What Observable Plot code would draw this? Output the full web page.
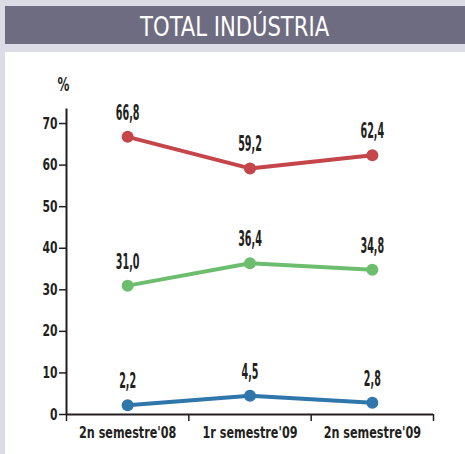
<!DOCTYPE html>
<html>
<head>
<meta charset="utf-8">
<script src="https://cdn.jsdelivr.net/npm/d3@7"></script>
<script src="https://cdn.jsdelivr.net/npm/@observablehq/plot@0.6"></script>
<style>
  html, body { margin: 0; padding: 0; }
  body { width: 465px; height: 454px; background: #dcdce6; position: relative; overflow: hidden; }
  #title { position: absolute; left: 5px; top: 6px; width: 460px; height: 38px; background: #6e6c80;
           color: #fff; text-align: center; font-family: 'DejaVu Sans Condensed', sans-serif;
           font-size: 27px; line-height: 41px; overflow: hidden; }
  #title span { display: inline-block; transform: scaleX(0.87); }
  #panel { position: absolute; left: 5px; top: 52px; width: 460px; height: 402px; background: #fff; }
</style>
</head>
<body>
<div id="title"><span>TOTAL INDÚSTRIA</span></div>
<div id="panel"></div>
<script>
const categories = ["2n semestre'08", "1r semestre'09", "2n semestre'09"];
const seriesNames = ["vermell", "verd", "blau"];
const seriesColors = ["#c4464b", "#6dbd6e", "#2f76aa"];
const redValues = [66.8, 59.2, 62.4];
const greenValues = [31.0, 36.4, 34.8];
const blueValues = [2.2, 4.5, 2.8];
const yTicks = [0, 10, 20, 30, 40, 50, 60, 70];
const bandEdges = [-0.5, 0.5, 1.5, 2.5];

const allValues = [redValues, greenValues, blueValues];
const data = [];
allValues.forEach((vals, s) => vals.forEach((v, i) => data.push({series: seriesNames[s], i, value: v})));
const fmt = v => v.toFixed(1).replace(".", ",");

const chart = Plot.plot({
  width: 460,
  height: 402,
  marginLeft: 61,
  marginRight: 32,
  marginTop: 56.5,
  marginBottom: 40,
  x: {type: "linear", domain: [-0.5, 2.5]},
  y: {domain: [0, 73.5]},
  color: {domain: seriesNames, range: seriesColors},
  style: {fontFamily: "'DejaVu Sans Condensed', sans-serif", fontWeight: "bold", color: "#231f20", background: "white", overflow: "visible"},
  marks: [
    Plot.axisY({ticks: yTicks, tickSize: 7, tickPadding: 2, fontSize: 16, label: null, strokeWidth: 1.5, ariaDescription: "ylab"}),
    Plot.axisX({ticks: bandEdges, tickSize: 7, tickFormat: () => "", label: null, strokeWidth: 1.5}),
    Plot.axisX({ticks: [0, 1, 2], tickSize: 0, tickPadding: 13, tickFormat: i => categories[i], fontSize: 15, label: null, ariaDescription: "xlab"}),
    Plot.ruleX([-0.5], {strokeWidth: 2, stroke: "#231f20"}),
    Plot.ruleY([0], {strokeWidth: 2, stroke: "#231f20"}),
    Plot.line(data, {x: "i", y: "value", z: "series", stroke: "series", strokeWidth: 4}),
    Plot.dot(data, {x: "i", y: "value", fill: "series", r: 6}),
    Plot.text(data, {x: "i", y: "value", text: d => fmt(d.value), lineAnchor: "bottom", dy: -17, fontSize: 20.5, fill: "#231f20", ariaDescription: "vals"}),
    Plot.text(["%"], {frameAnchor: "top-left", textAnchor: "middle", lineAnchor: "middle", dx: -3, dy: -24.5, fontSize: 20, fill: "#231f20", ariaDescription: "pct"})
  ]
});
document.getElementById("panel").appendChild(chart);

function squeeze(desc, ratio) {
  chart.querySelectorAll(`g[aria-description="${desc}"] text`).forEach(t => {
    const w = t.getComputedTextLength();
    t.setAttribute("textLength", (w * ratio).toFixed(2));
    t.setAttribute("lengthAdjust", "spacingAndGlyphs");
  });
}
squeeze("vals", 0.52);
squeeze("ylab", 0.75);
squeeze("xlab", 0.83);
squeeze("pct", 0.66);
</script>
</body>
</html>
